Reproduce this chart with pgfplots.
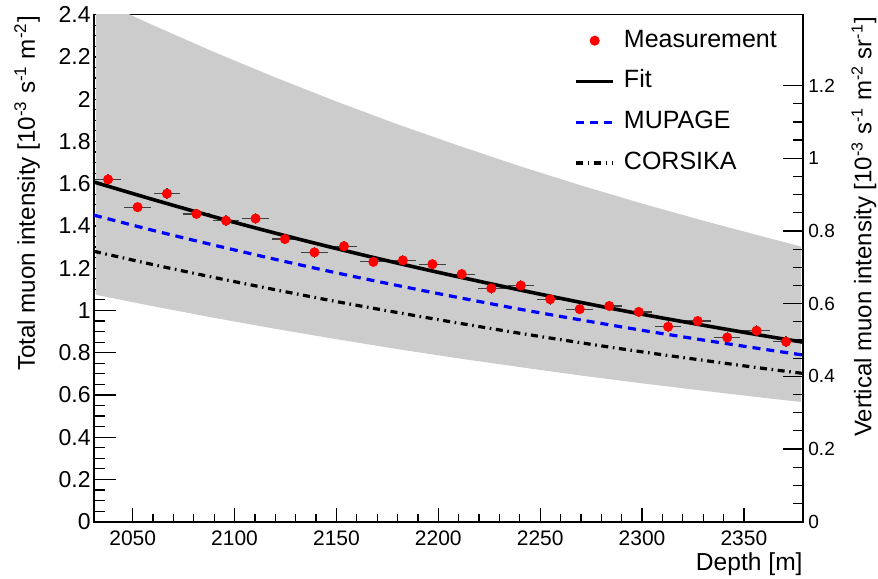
\documentclass[border=0pt]{standalone}
\usepackage{fontspec}
\setmainfont{Liberation Sans}
\usepackage{pgfplots}
\pgfplotsset{compat=1.18}

\definecolor{bandgray}{RGB}{204,204,204}
\definecolor{mublue}{RGB}{0,0,255}

\pgfplotsset{
    lineleg/.style={legend image code/.code={\draw[##1] (0pt,0pt) -- (18.5pt,0pt);}},
    markleg/.style={legend image code/.code={\draw[##1] plot coordinates {(9.25pt,0pt)};}},
}

\begin{document}
\begin{tikzpicture}
\begin{axis}[
    scale only axis,
    width=354.5pt, height=253.5pt,
    xmin=2031, xmax=2379,
    ymin=0, ymax=2.4,
    xtick={2050,2100,2150,2200,2250,2300,2350},
    minor x tick num=4,
    ytick={0,0.2,0.4,0.6,0.8,1,1.2,1.4,1.6,1.8,2,2.2,2.4},
    minor y tick num=3,
    xtick pos=bottom, ytick pos=left,
    tick align=inside,
    xtick style={/pgfplots/major tick length=7pt, /pgfplots/minor tick length=4pt},
    ytick style={/pgfplots/major tick length=11pt, /pgfplots/minor tick length=5.5pt},
    tick style={line width=0.6pt, black},
    axis line style={line width=0.8pt},
    /pgf/number format/assume math mode=true,
    /pgf/number format/1000 sep={},
    /pgf/number format/fixed,
    xticklabel style={font=\fontsize{10.5}{12}\selectfont, inner ysep=4.5pt},
    yticklabel style={font=\fontsize{11.5}{13}\selectfont, inner xsep=1.5pt},
    xlabel={Depth [m]},
    xlabel style={at={(axis description cs:1,-0.083)}, anchor=east, inner sep=0pt,
        font=\fontsize{12.3}{14}\selectfont},
    ylabel={Total muon intensity [10\textsuperscript{-3} s\textsuperscript{-1} m\textsuperscript{-2}]},
    ylabel style={at={(axis description cs:-0.0945,0.998)}, anchor=east, inner sep=0pt,
        font=\fontsize{12.1}{14}\selectfont},
    lineleg,
    legend style={draw=none, fill=none, inner sep=0pt,
        at={(axis description cs:0.677,0.972)}, anchor=north west,
        font=\fontsize{12.5}{14}\selectfont,
        row sep=9pt, column sep=4.5pt,
        nodes={inner sep=0pt, text height=8.9pt, text depth=2.5pt}},
    legend cell align=left,
]
% systematic band
\addplot[fill=bandgray, draw=none, forget plot] coordinates {
    (2032,2.475) (2060,2.350) (2090,2.223) (2120,2.103) (2150,1.989)
    (2180,1.881) (2210,1.780) (2240,1.683) (2270,1.592) (2300,1.506)
    (2330,1.425) (2360,1.348) (2378,1.303)
    (2378,0.567) (2360,0.586) (2330,0.620) (2300,0.655) (2270,0.692)
    (2240,0.732) (2210,0.773) (2180,0.817) (2150,0.864) (2120,0.913)
    (2090,0.965) (2060,1.020) (2032,1.074)
} -- cycle;

\addplot[only marks, mark=*, mark size=2.3pt, color=red, markleg,
    error bars/.cd, x dir=both, x explicit, y dir=both, y explicit,
    error bar style={line width=0.6pt, black!75}, error mark=none]
coordinates {
    (2037.9,1.620) +- (6.5,0.025)
    (2052.4,1.489) +- (6.5,0.025)
    (2066.8,1.553) +- (6.5,0.025)
    (2081.3,1.457) +- (6.5,0.025)
    (2095.8,1.425) +- (6.5,0.025)
    (2110.3,1.435) +- (6.5,0.025)
    (2124.7,1.338) +- (6.5,0.025)
    (2139.2,1.275) +- (6.5,0.025)
    (2153.7,1.304) +- (6.5,0.025)
    (2168.1,1.230) +- (6.5,0.025)
    (2182.6,1.237) +- (6.5,0.025)
    (2197.1,1.219) +- (6.5,0.025)
    (2211.5,1.172) +- (6.5,0.025)
    (2226.0,1.105) +- (6.5,0.025)
    (2240.5,1.118) +- (6.5,0.025)
    (2254.9,1.053) +- (6.5,0.025)
    (2269.4,1.006) +- (6.5,0.025)
    (2283.9,1.021) +- (6.5,0.025)
    (2298.4,0.993) +- (6.5,0.025)
    (2312.8,0.923) +- (6.5,0.025)
    (2327.3,0.950) +- (6.5,0.025)
    (2341.8,0.872) +- (6.5,0.025)
    (2356.2,0.904) +- (6.5,0.025)
    (2370.7,0.852) +- (6.5,0.025)
};
\addlegendentry{Measurement}

\addplot[black, line width=1.8pt, smooth] coordinates {
    (2031,1.608) (2060,1.525) (2090,1.443) (2120,1.366) (2150,1.293)
    (2180,1.224) (2210,1.159) (2240,1.097) (2270,1.038) (2300,0.982)
    (2330,0.930) (2360,0.880) (2379,0.850)
};
\addlegendentry{Fit}

\addplot[mublue, line width=1.6pt, smooth, dash pattern=on 4pt off 3pt] coordinates {
    (2031,1.451) (2060,1.379) (2090,1.309) (2120,1.242) (2150,1.178)
    (2180,1.118) (2210,1.061) (2240,1.006) (2270,0.955) (2300,0.906)
    (2330,0.860) (2360,0.816) (2379,0.789)
};
\addlegendentry{MUPAGE}

\addplot[black, line width=1.6pt, smooth,
    dash pattern=on 3.5pt off 2.3pt on 0.8pt off 2.3pt] coordinates {
    (2031,1.280) (2060,1.217) (2090,1.156) (2120,1.098) (2150,1.042)
    (2180,0.990) (2210,0.940) (2240,0.892) (2270,0.847) (2300,0.804)
    (2330,0.764) (2360,0.725) (2379,0.702)
};
\addlegendentry{CORSIKA}
\end{axis}

\begin{axis}[
    scale only axis,
    width=354.5pt, height=253.5pt,
    xmin=2031, xmax=2379,
    ymin=0, ymax=1.395,
    axis x line=none,
    axis y line*=right,
    axis line style={line width=0.8pt, -},
    ytick={0,0.2,0.4,0.6,0.8,1,1.2},
    minor ytick={0.05,0.1,0.15,0.25,0.3,0.35,0.45,0.5,0.55,0.65,0.7,0.75,
        0.85,0.9,0.95,1.05,1.1,1.15},
    tick align=inside,
    ytick style={/pgfplots/major tick length=10pt, /pgfplots/minor tick length=5pt},
    tick style={line width=0.6pt, black},
    /pgf/number format/assume math mode=true,
    /pgf/number format/fixed,
    yticklabel style={font=\fontsize{9.5}{11}\selectfont, inner xsep=2.5pt},
    ylabel={Vertical muon intensity [10\textsuperscript{-3} s\textsuperscript{-1} m\textsuperscript{-2} sr\textsuperscript{-1}]},
    ylabel style={at={(axis description cs:1.086,0.996)}, anchor=east, inner sep=0pt,
        font=\fontsize{12}{14}\selectfont},
]
\end{axis}
\path ([shift={(-47pt,-28.5pt)}]current axis.south west) rectangle
      ([shift={(37.5pt,5.5pt)}]current axis.north east);
\end{tikzpicture}
\end{document}
